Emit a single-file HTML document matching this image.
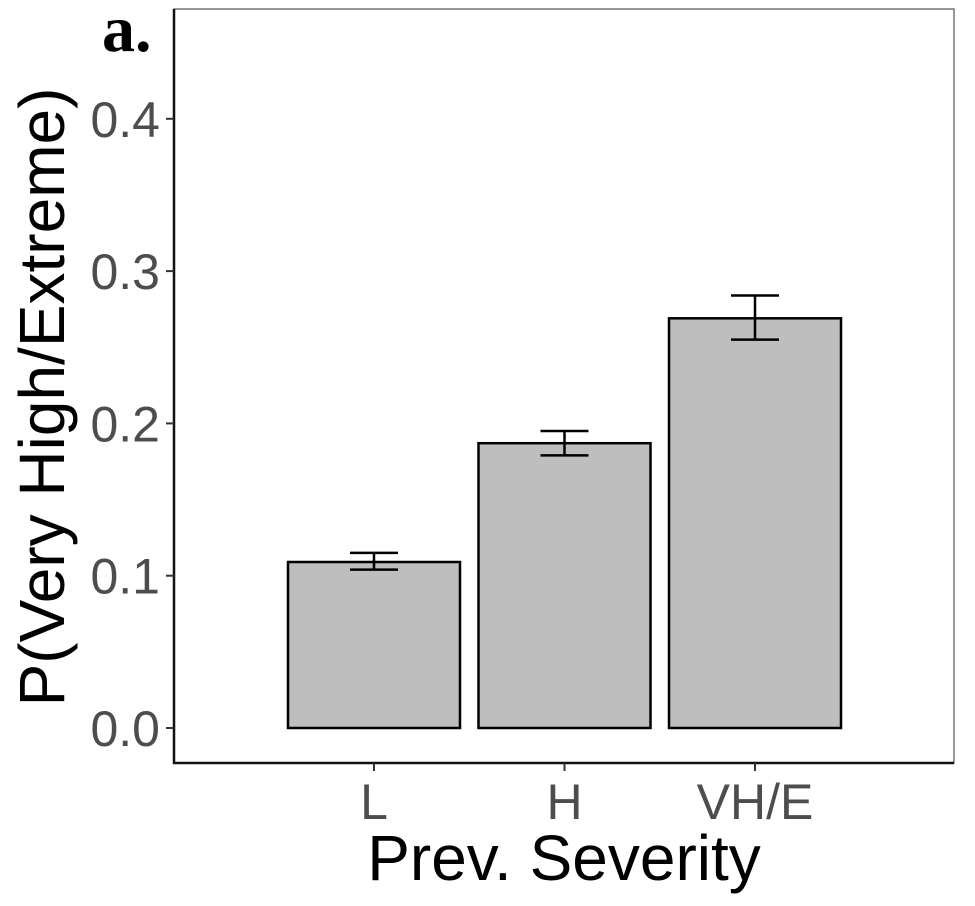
<!DOCTYPE html>
<html><head><meta charset="utf-8"><style>
body{margin:0;background:#fff}
svg text{font-family:"Liberation Sans",sans-serif}
</style></head><body>
<svg width="975" height="901" viewBox="0 0 975 901" xmlns="http://www.w3.org/2000/svg">
<rect x="0" y="0" width="975" height="901" fill="#fff"/>
<rect x="174" y="9" width="780" height="754" fill="none" stroke="#555" stroke-width="1.2"/>
<line x1="174" y1="9" x2="174" y2="764" stroke="#111" stroke-width="2.5"/>
<line x1="173" y1="763" x2="954" y2="763" stroke="#111" stroke-width="2.5"/>
<g id="ticks"></g>
<g id="bars"></g>
<text x="102" y="51" font-weight="bold" font-size="66" style="font-family:'Liberation Serif',serif">a.</text>
<text x="564" y="880" text-anchor="middle" font-size="64" fill="#000">Prev. Severity</text>
<text transform="translate(64,397) rotate(-90)" text-anchor="middle" font-size="64" fill="#000">P(Very High/Extreme)</text>
</svg>
<script>
const categories = ["L","H","VH/E"];
const values = [0.109, 0.187, 0.269];
const errLow = [0.104, 0.179, 0.255];
const errHigh = [0.115, 0.195, 0.284];
const yTicks = [0.0, 0.1, 0.2, 0.3, 0.4];
const yTickLabels = ["0.0","0.1","0.2","0.3","0.4"];

const NS = "http://www.w3.org/2000/svg";
function y(v){ return 728 - v * 1523; }
function xc(i){ return 374 + i * 190.5; }
const barW = 172, capW = 48;
function mk(tag, attrs, parent){
  const e = document.createElementNS(NS, tag);
  for (const k in attrs) e.setAttribute(k, attrs[k]);
  parent.appendChild(e); return e;
}
const tg = document.getElementById('ticks');
yTicks.forEach((t, i) => {
  const l = mk('line', {x1:166, x2:174, y1:y(t), y2:y(t), stroke:'#333', 'stroke-width':2}, tg);
  
  
  const tx = mk('text', {x:160, y:y(t)+18, 'text-anchor':'end', 'font-size':50, fill:'#4d4d4d'}, tg);
  tx.textContent = yTickLabels[i];
  
  
});
categories.forEach((c, i) => {
  const l = mk('line', {x1:xc(i), x2:xc(i), y1:763, y2:771, stroke:'#333', 'stroke-width':2}, tg);
  
  
  const tx = mk('text', {x:xc(i), y:819, 'text-anchor':'middle', 'font-size':50, fill:'#4d4d4d'}, tg);
  tx.textContent = c;
  
  
});
const bg = document.getElementById('bars');
values.forEach((v, i) => {
  const r = mk('rect', {x:xc(i)-barW/2, y:y(v), width:barW, height:y(0)-y(v), fill:'#bebebe', stroke:'#000', 'stroke-width':2.5}, bg);
  
  
  const g = mk('g', {stroke:'#000', 'stroke-width':2.5}, bg);
  
  
  mk('line', {x1:xc(i), x2:xc(i), y1:y(errLow[i]), y2:y(errHigh[i])}, g);
  mk('line', {x1:xc(i)-capW/2, x2:xc(i)+capW/2, y1:y(errLow[i]), y2:y(errLow[i])}, g);
  mk('line', {x1:xc(i)-capW/2, x2:xc(i)+capW/2, y1:y(errHigh[i]), y2:y(errHigh[i])}, g);
});
</script>
</body></html>
